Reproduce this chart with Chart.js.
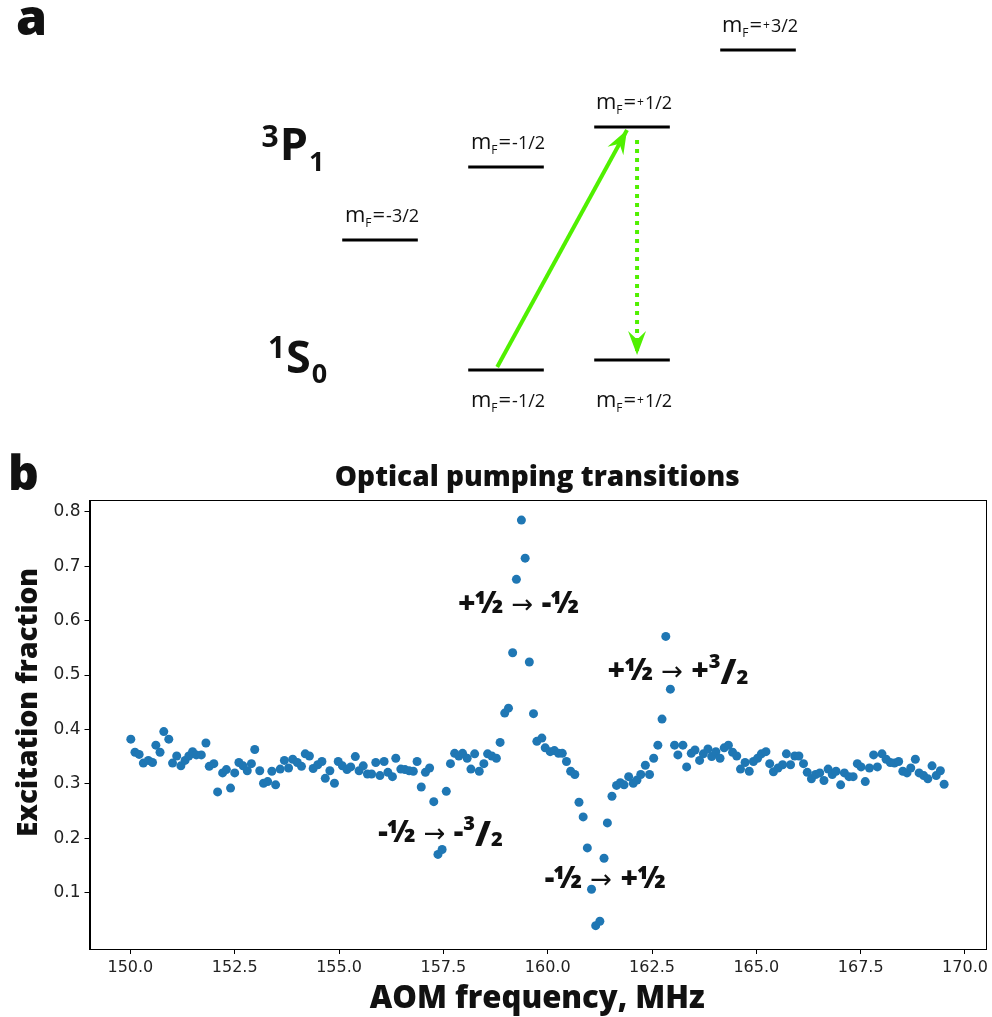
<!DOCTYPE html>
<html>
<head>
<meta charset="utf-8">
<script src="https://cdn.jsdelivr.net/npm/chart.js@4.4.1/dist/chart.umd.min.js"></script>
<style>
body { margin: 0; background: #fff; width: 992px; height: 1017px; position: relative; overflow: hidden; }
canvas { position: absolute; left: 0; }
#niveles { top: 0; }
#bombeo { top: 440px; }
.letra { position: absolute; font-family: "Open Sans", sans-serif; font-weight: 800; line-height: 1; color: #111; }
</style>
</head>
<body>
<canvas id="niveles" width="992" height="430"></canvas>
<canvas id="bombeo" width="992" height="577"></canvas>
<div class="letra" style="left:16px;top:-9px;font-size:50px">a</div>
<div class="letra" style="left:8px;top:448px;font-size:48px">b</div>
<script>
// ---------- datos panel a: niveles de energia (mF, energia arbitraria) ----------
const mF_P = [-1.5, -0.5, 0.5, 1.5];
const energia_P = [1.9, 2.63, 3.03, 3.8];
const etiquetas_P = ["-3/2", "-1/2", "+1/2", "+3/2"];
const mF_S = [-0.5, 0.5];
const energia_S = [0.6, 0.7];
const etiquetas_S = ["-1/2", "+1/2"];
// transiciones: [mF, energia] inicio y fin
const bombeoDesde = [-0.57, 0.63];
const bombeoHasta = [0.46, 3.0];
const decaeDesde = [0.54, 2.9];
const decaeHasta = [0.54, 0.75];

// ---------- datos panel b: espectro ----------
const frecuencia = [
  150.01,150.11,150.21,150.31,150.43,150.53,150.61,150.71,150.80,150.92,
  151.01,151.11,151.21,151.31,151.40,151.49,151.58,151.70,151.81,151.89,
  152.00,152.09,152.21,152.30,152.40,152.50,152.60,152.70,152.80,152.90,
  152.98,153.10,153.19,153.29,153.39,153.48,153.59,153.69,153.79,153.89,
  154.00,154.10,154.19,154.29,154.38,154.49,154.59,154.67,154.78,154.89,
  154.98,155.08,155.19,155.28,155.39,155.48,155.58,155.68,155.78,155.88,
  155.98,156.08,156.17,156.28,156.36,156.48,156.58,156.68,156.78,156.87,
  156.97,157.07,157.17,157.27,157.37,157.47,157.57,157.67,157.77,157.87,
  157.96,158.07,158.16,158.25,158.36,158.47,158.56,158.66,158.77,158.86,
  158.97,159.06,159.16,159.25,159.37,159.46,159.56,159.66,159.74,159.86,
  159.94,160.06,160.16,160.26,160.35,160.45,160.55,160.65,160.75,160.85,
  160.95,161.05,161.15,161.25,161.35,161.43,161.54,161.65,161.74,161.83,
  161.94,162.05,162.14,162.23,162.34,162.44,162.54,162.64,162.74,162.83,
  162.94,163.04,163.12,163.24,163.33,163.44,163.53,163.64,163.73,163.84,
  163.93,164.03,164.13,164.23,164.33,164.43,164.53,164.62,164.73,164.83,
  164.93,165.03,165.12,165.23,165.32,165.41,165.52,165.63,165.72,165.82,
  165.92,166.02,166.13,166.22,166.32,166.42,166.52,166.62,166.72,166.82,
  166.91,167.02,167.11,167.22,167.32,167.42,167.51,167.61,167.71,167.81,
  167.90,168.01,168.11,168.21,168.31,168.41,168.51,168.61,168.70,168.81,
  168.90,169.01,169.11,169.21,169.31,169.41,169.50
];
const fraccion = [
  0.382,0.358,0.354,0.338,0.343,0.339,0.371,0.358,0.396,0.382,
  0.338,0.351,0.333,0.343,0.351,0.359,0.353,0.353,0.375,0.332,
  0.337,0.285,0.320,0.326,0.292,0.320,0.339,0.333,0.324,0.337,
  0.363,0.324,0.301,0.304,0.323,0.298,0.327,0.343,0.329,0.345,
  0.339,0.332,0.355,0.351,0.328,0.335,0.341,0.310,0.324,0.301,
  0.341,0.333,0.326,0.331,0.350,0.324,0.333,0.318,0.318,0.339,
  0.315,0.341,0.321,0.313,0.347,0.327,0.326,0.324,0.323,0.341,
  0.294,0.321,0.329,0.267,0.170,0.179,0.286,0.337,0.356,0.351,
  0.356,0.347,0.327,0.355,0.323,0.337,0.355,0.351,0.347,0.376,
  0.430,0.439,0.541,0.676,0.785,0.715,0.524,0.429,0.378,0.384,
  0.366,0.359,0.361,0.356,0.356,0.341,0.323,0.317,0.266,0.239,
  0.182,0.106,0.039,0.047,0.163,0.228,0.277,0.297,0.302,0.298,
  0.313,0.301,0.307,0.317,0.334,0.317,0.347,0.371,0.419,0.571,
  0.474,0.371,0.353,0.371,0.331,0.356,0.362,0.343,0.355,0.364,
  0.350,0.359,0.347,0.366,0.371,0.358,0.351,0.327,0.339,0.323,
  0.341,0.347,0.355,0.359,0.337,0.322,0.329,0.335,0.355,0.335,
  0.351,0.351,0.337,0.321,0.309,0.317,0.320,0.306,0.327,0.317,
  0.323,0.298,0.320,0.313,0.313,0.337,0.331,0.304,0.329,0.353,
  0.331,0.355,0.345,0.339,0.338,0.341,0.323,0.320,0.329,0.345,
  0.320,0.315,0.309,0.333,0.315,0.324,0.299
];
const ticksX = [150, 152.5, 155, 157.5, 160, 162.5, 165, 167.5, 170];
const ticksY = [0.1, 0.2, 0.3, 0.4, 0.5, 0.6, 0.7, 0.8];

const VERDE = "#50f000";
const NEGRITA = "'Open Sans', sans-serif";

// escribe una secuencia de trozos de texto centrada en cx, con linea base en y
function escribirTrozos(ctx, trozos, cx, y) {
  let ancho = 0;
  trozos.forEach((t) => { ctx.font = t.f; t.w = ctx.measureText(t.t).width + (t.gap || 0); ancho += t.w; });
  let x = cx - ancho / 2;
  ctx.textAlign = "left";
  ctx.textBaseline = "alphabetic";
  trozos.forEach((t) => { ctx.font = t.f; ctx.fillText(t.t, x, y + (t.dy || 0)); x += t.w; });
}

function trozosMF(valor) {
  const trozos = [
    { t: "m", f: "400 22px 'Open Sans'" },
    { t: "F", f: "400 12px 'Open Sans'", dy: 5, gap: 1 },
    { t: "=", f: "400 22px 'Open Sans'", gap: 1 },
  ];
  if (valor[0] === "+") {
    trozos.push({ t: "+", f: "400 12px 'Open Sans'", dy: -3, gap: 1 });
    trozos.push({ t: valor.slice(1), f: "400 18px 'Open Sans'" });
  } else {
    trozos.push({ t: valor, f: "400 18px 'Open Sans'" });
  }
  return trozos;
}

// ---------- panel a ----------
const datasetsNiveles = [];
mF_P.forEach((m, i) => datasetsNiveles.push({ data: [{ x: m - 0.3, y: energia_P[i] }, { x: m + 0.3, y: energia_P[i] }], borderColor: "#000", borderWidth: 3 }));
mF_S.forEach((m, i) => datasetsNiveles.push({ data: [{ x: m - 0.3, y: energia_S[i] }, { x: m + 0.3, y: energia_S[i] }], borderColor: "#000", borderWidth: 3 }));
datasetsNiveles.push({ data: [{ x: bombeoDesde[0], y: bombeoDesde[1] }, { x: bombeoHasta[0], y: bombeoHasta[1] }], borderColor: VERDE, borderWidth: 4, flecha: true });
datasetsNiveles.push({ data: [{ x: decaeDesde[0], y: decaeDesde[1] }, { x: decaeHasta[0], y: decaeHasta[1] }], borderColor: VERDE, borderWidth: 4, borderDash: [4, 5], flecha: true });

const flechas = {
  id: "flechas",
  afterDatasetsDraw(chart) {
    const ctx = chart.ctx;
    chart.data.datasets.forEach((ds, i) => {
      if (!ds.flecha) return;
      const pts = chart.getDatasetMeta(i).data;
      const a = pts[0], b = pts[pts.length - 1];
      const ang = Math.atan2(b.y - a.y, b.x - a.x);
      const L = 24, W = 9;
      const ux = Math.cos(ang), uy = Math.sin(ang);
      ctx.save();
      ctx.fillStyle = ds.borderColor;
      ctx.beginPath();
      ctx.moveTo(b.x, b.y);
      ctx.lineTo(b.x - L * ux - W * uy, b.y - L * uy + W * ux);
      ctx.lineTo(b.x - 0.65 * L * ux, b.y - 0.65 * L * uy);
      ctx.lineTo(b.x - L * ux + W * uy, b.y - L * uy - W * ux);
      ctx.closePath();
      ctx.fill();
      ctx.restore();
    });
  },
};

const rotulosNiveles = {
  id: "rotulosNiveles",
  afterDatasetsDraw(chart) {
    const ctx = chart.ctx;
    const sx = chart.scales.x, sy = chart.scales.y;
    ctx.save();
    ctx.fillStyle = "#111";
    mF_P.forEach((m, i) => escribirTrozos(ctx, trozosMF(etiquetas_P[i]), sx.getPixelForValue(m) + 2, sy.getPixelForValue(energia_P[i]) - 18));
    const bajo = Math.max(...energia_S.map((e) => sy.getPixelForValue(e)));
    mF_S.forEach((m, i) => escribirTrozos(ctx, trozosMF(etiquetas_S[i]), sx.getPixelForValue(m) + 2, bajo + 37));
    // terminos espectroscopicos
    const terminos = [
      { sup: "3", main: "P", sub: "1", x: -2.44, e: 2.7, dsup: -13, dsub: 11 },
      { sup: "1", main: "S", sub: "0", x: -2.39, e: 0.57, dsup: -15, dsub: 10 },
    ];
    terminos.forEach((t) => {
      let x = sx.getPixelForValue(t.x);
      const y = sy.getPixelForValue(t.e);
      ctx.textAlign = "left";
      ctx.font = "700 30px " + NEGRITA;
      ctx.fillText(t.sup, x, y + t.dsup);
      x += ctx.measureText(t.sup).width + 1;
      ctx.font = "700 45px " + NEGRITA;
      ctx.fillText(t.main, x, y);
      x += ctx.measureText(t.main).width + 1;
      ctx.font = "700 27px " + NEGRITA;
      ctx.fillText(t.sub, x, y + t.dsub);
    });
    ctx.restore();
  },
};

new Chart(document.getElementById("niveles"), {
  type: "scatter",
  data: { datasets: datasetsNiveles.map((d) => Object.assign({ showLine: true, pointRadius: 0, fill: false }, d)) },
  options: {
    responsive: false,
    animation: false,
    layout: { padding: 0 },
    plugins: { legend: { display: false }, tooltip: { enabled: false } },
    scales: {
      x: { type: "linear", min: -4.516, max: 3.357, display: false },
      y: { type: "linear", min: 0, max: 4.3, display: false },
    },
  },
  plugins: [flechas, rotulosNiveles],
});

// ---------- panel b ----------
const marco = {
  id: "marco",
  afterDraw(chart) {
    const a = chart.chartArea, ctx = chart.ctx;
    ctx.save();
    ctx.strokeStyle = "#000";
    ctx.lineWidth = 1;
    ctx.strokeRect(Math.round(a.left) + 0.5, Math.round(a.top) + 0.5, Math.round(a.right - a.left), Math.round(a.bottom - a.top));
    // titulo y rotulo del eje y
    ctx.fillStyle = "#111";
    ctx.textAlign = "center";
    ctx.textBaseline = "middle";
    ctx.font = "800 28px " + NEGRITA;
    ctx.fillText("Optical pumping transitions", (a.left + a.right) / 2, 38);
    ctx.translate(29, (a.top + a.bottom) / 2 - 22);
    ctx.rotate(-Math.PI / 2);
    ctx.font = "800 28px " + NEGRITA;
    ctx.fillText("Excitation fraction", 0, 0);
    ctx.restore();
  },
};

const B = (s) => "800 " + s + "px " + NEGRITA;
const FLECHA = "400 26px 'DejaVu Sans'";
const tresMedios = [
  { t: "3", f: B(20), dy: -12 },
  { t: "/", f: B(36), dy: 4 },
  { t: "2", f: B(20), dy: 4 },
];
const transiciones = [
  { x: 159.3, y: 0.633, trozos: [{ t: "+½", f: B(30) }, { t: " → ", f: FLECHA }, { t: "-½", f: B(30) }] },
  { x: 163.12, y: 0.509, trozos: [{ t: "+½", f: B(30) }, { t: " → ", f: FLECHA }, { t: "+", f: B(30) }].concat(tresMedios) },
  { x: 157.43, y: 0.211, trozos: [{ t: "-½", f: B(30) }, { t: " → ", f: FLECHA }, { t: "-", f: B(30) }].concat(tresMedios) },
  { x: 161.38, y: 0.127, trozos: [{ t: "-½", f: B(30) }, { t: " → ", f: FLECHA }, { t: "+½", f: B(30) }] },
];
const anotaciones = {
  id: "anotaciones",
  afterDatasetsDraw(chart) {
    const ctx = chart.ctx;
    ctx.save();
    ctx.fillStyle = "#111";
    transiciones.forEach((tr) => escribirTrozos(ctx, tr.trozos.map((t) => Object.assign({}, t)), chart.scales.x.getPixelForValue(tr.x), chart.scales.y.getPixelForValue(tr.y) + 10));
    ctx.restore();
  },
};

new Chart(document.getElementById("bombeo"), {
  type: "scatter",
  data: {
    datasets: [{
      data: frecuencia.map((f, i) => ({ x: f, y: fraccion[i] })),
      backgroundColor: "#1f77b4",
      borderColor: "#1f77b4",
      borderWidth: 0,
      pointRadius: 4.5,
      pointHoverRadius: 4.5,
    }],
  },
  options: {
    responsive: false,
    animation: false,
    layout: { padding: { left: 0, right: 4, top: 60, bottom: 0 } },
    plugins: {
      legend: { display: false },
      tooltip: { enabled: false },
    },
    scales: {
      x: {
        type: "linear", min: 149.02, max: 170.48,
        afterFit: (s) => { s.height = 68; },
        afterBuildTicks: (s) => { s.ticks = ticksX.map((v) => ({ value: v })); },
        grid: { drawOnChartArea: false, drawTicks: true, tickLength: 5, color: "#000" },
        border: { color: "#000", width: 1 },
        ticks: { color: "#222", font: { family: "DejaVu Sans", size: 16 }, padding: 4, maxRotation: 0, autoSkip: false, callback: (v) => Number(v).toFixed(1) },
        title: { display: true, text: "AOM frequency, MHz", color: "#111", font: { family: "Open Sans", size: 31, weight: 800, lineHeight: 1.1 }, padding: { top: 0, bottom: 1 } },
      },
      y: {
        type: "linear", min: -0.004, max: 0.822,
        afterFit: (s) => { s.width = 89.5; },
        afterBuildTicks: (s) => { s.ticks = ticksY.map((v) => ({ value: v })); },
        grid: { drawOnChartArea: false, drawTicks: true, tickLength: 5, color: "#000" },
        border: { color: "#000", width: 1 },
        ticks: { color: "#222", font: { family: "DejaVu Sans", size: 17 }, padding: 4, autoSkip: false, callback: (v) => Number(v).toFixed(1) },
      },
    },
  },
  plugins: [marco, anotaciones],
});
</script>
</body>
</html>
